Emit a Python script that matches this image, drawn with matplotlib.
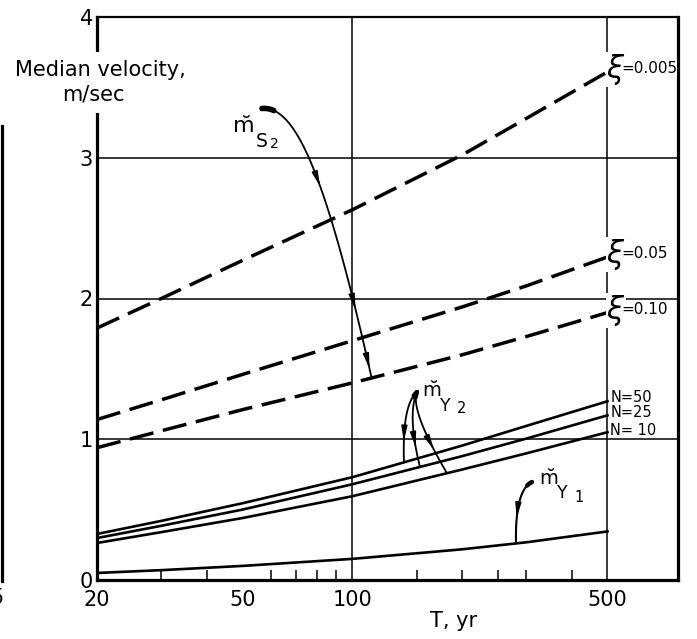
import numpy as np
import matplotlib
matplotlib.use("Agg")
import matplotlib.pyplot as plt
from matplotlib.lines import Line2D
from matplotlib.patches import Rectangle
from matplotlib.ticker import NullFormatter

plt.rcParams['font.family'] = ['DejaVu Sans']
plt.rcParams['mathtext.fontset'] = 'dejavusans'

# ---------------- data ----------------
T = [20, 30, 50, 100, 200, 300, 500]
xi_0005 = [1.79, 2.00, 2.27, 2.63, 3.02, 3.28, 3.61]
xi_005 = [1.14, 1.28, 1.46, 1.70, 1.94, 2.09, 2.295]
xi_010 = [0.94, 1.06, 1.21, 1.40, 1.60, 1.73, 1.90]
n50 = [0.327, 0.42, 0.545, 0.73, 0.955, 1.095, 1.27]
n25 = [0.298, 0.385, 0.50, 0.68, 0.88, 1.005, 1.17]
n10 = [0.263, 0.34, 0.44, 0.595, 0.785, 0.90, 1.05]
mY1 = [0.05, 0.07, 0.10, 0.15, 0.218, 0.268, 0.345]

xi_labels = ['=0.005', '=0.05', '=0.10']
n_labels = ['N=50', 'N=25', 'N= 10']
x_ticks = [20, 50, 100, 500]
x_tick_labels = ['20', '50', '100', '500']
x_minor = [30, 40, 50, 60, 70, 80, 90, 150, 200, 250, 300, 400]
y_ticks = [0, 1, 2, 3, 4]
y_tick_labels = ['0', '1', '2', '3', '4']

# annotation leader anchors (T, value); None -> value taken on target curve
S2_leader = [(56.6, 3.35), (69.7, 3.37), (84.2, 2.91), (113.0, None)]
Y2_origin = (150.4, 1.336)
Y2_ctrl = [(136.8, 1.243), (141.3, 1.172), (143.9, 1.208)]
Y2_end_T = [138.6, 153.3, 181.7]
Y1_leader = [(310.6, 0.696), (279.0, 0.639), (280.8, None)]

# ---------------- figure ----------------
W, H = 697, 639
fig = plt.figure(figsize=(W / 100, H / 100), dpi=100)
ax = fig.add_axes([97 / W, 1 - 580 / H, (678 - 97) / W, (580 - 17) / H])
ax.set_xscale('log')
ax.set_xlim(20, 780)
ax.set_ylim(0, 4)

for side in ['left', 'bottom', 'right']:
    ax.spines[side].set_linewidth(2.3)
ax.spines['top'].set_linewidth(1.6)

ax.set_xticks(x_ticks)
ax.set_xticklabels(x_tick_labels)
ax.set_xticks(x_minor, minor=True)
ax.xaxis.set_minor_formatter(NullFormatter())
ax.set_yticks(y_ticks)
ax.set_yticklabels(y_tick_labels)
ax.tick_params(axis='both', which='major', length=0, labelsize=15)
ax.tick_params(axis='x', which='major', pad=7)
ax.tick_params(axis='y', which='major', pad=3)
ax.tick_params(axis='x', which='minor', direction='in', length=7.5, width=1.1)
ax.yaxis.set_minor_locator(matplotlib.ticker.NullLocator())

# grid lines
for yv in [1, 2, 3]:
    ax.axhline(yv, color='k', lw=1.1, zorder=1)
for xv in [100, 500]:
    ax.axvline(xv, color='k', lw=1.1, zorder=1)

# curves
dash = (0, (7, 2.8))
for vals in [xi_0005, xi_005, xi_010]:
    ax.plot(T, vals, color='k', lw=2.5, ls=dash, zorder=3)
for vals in [n50, n25, n10]:
    ax.plot(T, vals, color='k', lw=1.9, zorder=3)
ax.plot(T, mY1, color='k', lw=1.9, zorder=3)

# curve-end labels
for vals, lab in zip([xi_0005, xi_005, xi_010], xi_labels):
    ax.annotate(r'$\xi$', xy=(T[-1], vals[-1]), xytext=(-0.8, 1.5),
                textcoords='offset points', ha='left', va='center',
                fontsize=22, zorder=5,
                bbox=dict(fc='white', ec='none', pad=0.0))
    ax.annotate(lab, xy=(T[-1], vals[-1]), xytext=(10.0, 2.5),
                textcoords='offset points', ha='left', va='center',
                fontsize=11, zorder=5,
                bbox=dict(fc='white', ec='none', pad=0.0))
for vals, lab, dy in zip([n50, n25, n10], n_labels, [2.5, 2.0, 1.5]):
    ax.annotate(lab, xy=(T[-1], vals[-1]), xytext=(2, dy),
                textcoords='offset points', ha='left', va='center',
                fontsize=10.5, zorder=5,
                bbox=dict(fc='white', ec='none', pad=0.0))


def curve_val(Tq, vals):
    return float(np.interp(np.log10(Tq), np.log10(T), vals))


def bez(pts, t):
    P = np.array([[np.log10(a), b] for a, b in pts])
    t = np.atleast_1d(t)[:, None]
    if len(P) == 3:
        B = (1 - t) ** 2 * P[0] + 2 * t * (1 - t) * P[1] + t ** 2 * P[2]
    else:
        B = ((1 - t) ** 3 * P[0] + 3 * t * (1 - t) ** 2 * P[1]
             + 3 * t ** 2 * (1 - t) * P[2] + t ** 3 * P[3])
    return 10 ** B[:, 0], B[:, 1]


def draw_leader(pts, arrows, lw=1.3, blob=0.1, blob_lw=3.5):
    tt = np.linspace(0, 1, 120)
    x, y = bez(pts, tt)
    ax.plot(x, y, color='k', lw=lw, zorder=4, solid_capstyle='round')
    tb = np.linspace(0, blob, 20)
    xb, yb = bez(pts, tb)
    ax.plot(xb, yb, color='k', lw=blob_lw, zorder=4, solid_capstyle='round')
    for ta in arrows:
        x0, y0 = bez(pts, ta - 0.03)
        x1, y1 = bez(pts, ta)
        ax.annotate('', xy=(x1[0], y1[0]), xytext=(x0[0], y0[0]),
                    arrowprops=dict(arrowstyle='-|>,head_length=0.9,head_width=0.18',
                                    color='k', lw=1.0, shrinkA=0, shrinkB=0),
                    zorder=4)


# m_S2 leader
s2 = list(S2_leader)
s2[-1] = (s2[-1][0], curve_val(s2[-1][0], xi_010))
draw_leader(s2, [0.58, 0.88, 0.985], lw=1.3, blob=0.12, blob_lw=4)

# m_Y2 leaders
for c, te, vals in zip(Y2_ctrl, Y2_end_T, [n50, n25, n10]):
    pts = [Y2_origin, c, (te, curve_val(te, vals))]
    draw_leader(pts, [0.8], lw=1.3, blob=0.12, blob_lw=3)

# m_Y1 leader
y1 = list(Y1_leader)
y1[-1] = (y1[-1][0], curve_val(y1[-1][0], mY1))
draw_leader(y1, [0.73], lw=1.5, blob=0.15, blob_lw=3.2)


def fx(px):
    return px / W


def fy(py):
    return 1 - py / H


def mlabel(mx, mbase, msize, letter, lx, lbase, lsize, digit, dx, dbase, dsize):
    fig.text(fx(mx), fy(mbase), r'$\breve{\mathrm{m}}$', fontsize=msize,
             ha='left', va='baseline')
    fig.text(fx(lx), fy(lbase), letter, fontsize=lsize, ha='left', va='baseline')
    fig.text(fx(dx), fy(dbase), digit, fontsize=dsize, ha='left', va='baseline')


# annotation names
mlabel(232, 133, 16, 'S', 256, 147, 13.5, '2', 270, 148, 10)
mlabel(422, 397, 14, 'Y', 440, 411, 12.5, '2', 457, 413, 10.5)
mlabel(539, 485, 14, 'Y', 557, 498, 12.5, '1', 574, 502, 10.5)

# axis titles
fig.add_artist(Rectangle((fx(92), fy(113)), (103 - 92) / W, (113 - 52) / H,
                         transform=fig.transFigure, fc='white', ec='none', zorder=2.5))
fig.text(fx(15), fy(70), 'Median velocity,', fontsize=15, ha='left', va='center', zorder=3)
fig.text(fx(93), fy(95), 'm/sec', fontsize=15, ha='center', va='center', zorder=3)
fig.text(fx(454), fy(621), 'T, yr', fontsize=15, ha='center', va='center')

# fragment of neighbouring panel at the left edge
fig.add_artist(Line2D([fx(1.5), fx(1.5)], [fy(126), fy(581)], lw=2.3, color='k',
                      transform=fig.transFigure))
fig.text(fx(4), fy(598), '5', fontsize=15, ha='right', va='center')

fig.savefig('out.png', dpi=100)
